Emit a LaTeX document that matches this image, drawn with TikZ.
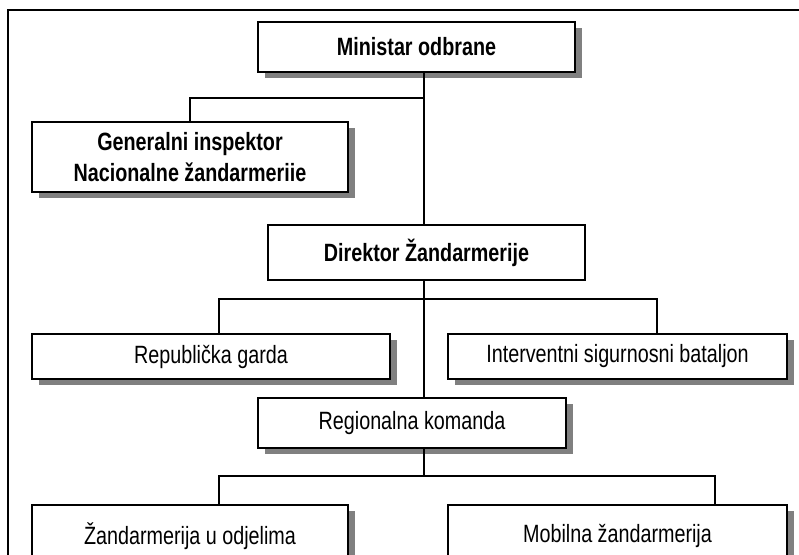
\documentclass[tikz,border=0pt]{standalone}
\usepackage{fontspec}
\setmainfont[FakeStretch=0.79]{Liberation Sans}
\begin{document}
\begin{tikzpicture}[x=1pt,y=-1pt,
  unit/.style={draw=black,line width=1.6pt,fill=white,inner sep=0pt,
    align=center,font=\fontsize{25}{31}\selectfont},
  shadowed/.style={unit,
    preaction={draw=none,fill=black!50,transform canvas={xshift=7pt,yshift=-6pt}}},
  head/.style={font=\fontsize{25}{31}\selectfont\bfseries},
  link/.style={line width=1.3pt}]
\useasboundingbox (0,0) rectangle (799,554);
\clip (0,0) rectangle (799,554);
% outer frame
\draw[line width=1.6pt] (8,570) -- (8,10) -- (810,10);

% units
\node[shadowed,head,minimum width=317pt,minimum height=50pt] (min) at (416.5,47) {Ministar odbrane};
\node[shadowed,head,minimum width=316pt,minimum height=70pt] (gen) at (190,157) {Generalni inspektor\\Nacionalne žandarmeriie};
\node[unit,head,minimum width=317pt,minimum height=55pt] (dir) at (426.5,252.5) {Direktor Žandarmerije};
\node[shadowed,minimum width=358pt,minimum height=45pt] (rep) at (211,356.5) {Republička garda};
\node[shadowed,minimum width=339pt,minimum height=45pt] (isb) at (617.5,356.5) {Interventni sigurnosni bataljon};
\node[shadowed,minimum width=308pt,minimum height=50pt] (reg) at (412,423) {Regionalna komanda};
\node[shadowed,minimum width=316pt,minimum height=62pt] (zod) at (190,536) {Žandarmerija u odjelima};
\node[shadowed,minimum width=339pt,minimum height=62pt] (mob) at (617.5,536) {Mobilna žandarmerija};

% junction points
\coordinate (j1) at (424,98);
\coordinate (j2) at (424,299);
\coordinate (j3) at (424,476);

% connectors
\draw[link] (min.south -| j1) -- (dir.north -| j1);
\draw[link] (j1) -| (gen.north);
\draw[link] (dir.south -| j2) -- (reg.north -| j2);
\draw[link] (j2) -| (rep.north -| 219,0);
\draw[link] (j2) -| (isb.north -| 657,0);
\draw[link] (reg.south -| j3) -- (j3);
\draw[link] (j3) -| (zod.north -| 219,0);
\draw[link] (j3) -| (mob.north -| 715,0);
\end{tikzpicture}
\end{document}
